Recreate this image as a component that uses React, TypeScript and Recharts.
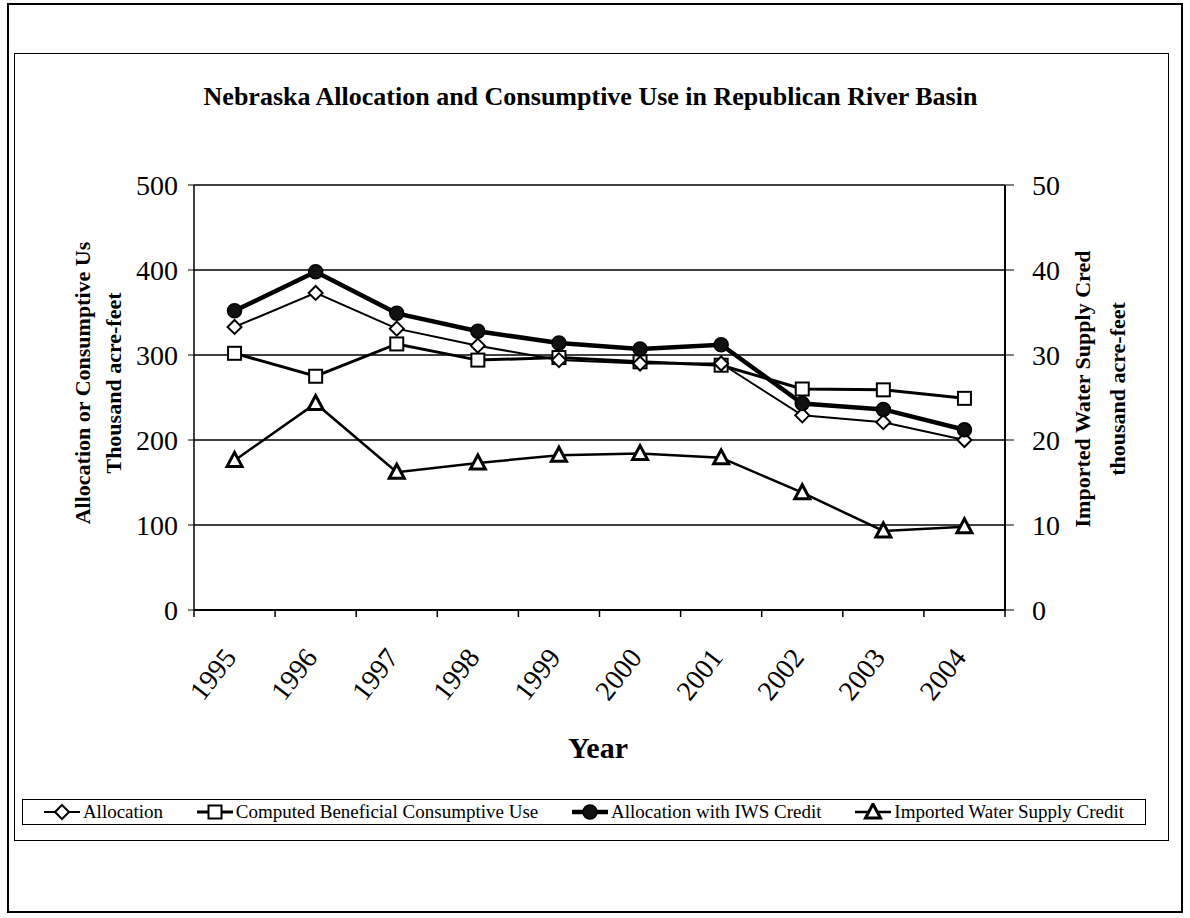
import React from 'react';
import { LineChart, Line, XAxis, YAxis, CartesianGrid } from 'recharts';

const years = ['1995', '1996', '1997', '1998', '1999', '2000', '2001', '2002', '2003', '2004'];
const allocation = [333, 373, 331, 311, 294, 290, 290, 229, 221, 200];
const computedUse = [302, 275, 313, 294, 297, 292, 288, 260, 259, 249];
const allocationIws = [352, 398, 349, 328, 314, 307, 312, 243, 236, 212];
const iwsCredit = [17.6, 24.3, 16.2, 17.3, 18.2, 18.4, 17.9, 13.8, 9.3, 9.8];

const leftTicks = [0, 100, 200, 300, 400, 500];
const rightTicks = [0, 10, 20, 30, 40, 50];

const data = years.map((year, i) => ({
  year,
  allocation: allocation[i],
  computedUse: computedUse[i],
  allocationIws: allocationIws[i],
  iwsCredit: iwsCredit[i],
}));

const FONT = "'Liberation Serif', 'Times New Roman', serif";
const PLOT_LEFT = 194;
const PLOT_RIGHT = 1005;
const HALF_BAND = (PLOT_RIGHT - PLOT_LEFT) / years.length / 2;

function Diamond({ cx, cy }: any) {
  if (cx == null || cy == null) return null;
  const r = 7;
  return <path d={`M${cx},${cy - r}L${cx + r},${cy}L${cx},${cy + r}L${cx - r},${cy}Z`} fill="#fff" stroke="#000" strokeWidth={2} />;
}

function Square({ cx, cy }: any) {
  if (cx == null || cy == null) return null;
  return <rect x={cx - 6.5} y={cy - 6.5} width={13} height={13} fill="#fff" stroke="#000" strokeWidth={2} />;
}

function Dot({ cx, cy }: any) {
  if (cx == null || cy == null) return null;
  return <circle cx={cx} cy={cy} r={7} fill="#111" stroke="#000" strokeWidth={1.5} />;
}

function Triangle({ cx, cy }: any) {
  if (cx == null || cy == null) return null;
  return <path d={`M${cx},${cy - 8}L${cx + 7.5},${cy + 6}L${cx - 7.5},${cy + 6}Z`} fill="#fff" stroke="#000" strokeWidth={3} />;
}

function YearTick({ x, y, payload, index }: any) {
  const axisY = y - 7;
  const ax = x + 3;
  const ay = axisY + 48;
  return (
    <g>
      <line x1={x - HALF_BAND} y1={axisY} x2={x - HALF_BAND} y2={axisY + 7} stroke="#000" strokeWidth={1.5} />
      {index === years.length - 1 && (
        <line x1={x + HALF_BAND} y1={axisY} x2={x + HALF_BAND} y2={axisY + 7} stroke="#000" strokeWidth={1.5} />
      )}
      <text x={ax} y={ay} textAnchor="end" transform={`rotate(-52, ${ax}, ${ay})`} fontFamily={FONT} fontSize={28} fill="#000">
        {payload.value}
      </text>
    </g>
  );
}

function LeftLabel() {
  return (
    <g fontFamily={FONT} fontWeight="bold" fontSize={22} fill="#000">
      <text transform="translate(82, 383) rotate(-90)" textAnchor="middle" dominantBaseline="central">
        Allocation or Consumptive Us
      </text>
      <text transform="translate(113, 383) rotate(-90)" textAnchor="middle" dominantBaseline="central">
        Thousand acre-feet
      </text>
    </g>
  );
}

function RightLabel() {
  return (
    <g fontFamily={FONT} fontWeight="bold" fontSize={22} fill="#000">
      <text transform="translate(1082, 389) rotate(-90)" textAnchor="middle" dominantBaseline="central">
        Imported Water Supply Cred
      </text>
      <text transform="translate(1117, 389) rotate(-90)" textAnchor="middle" dominantBaseline="central">
        thousand acre-feet
      </text>
    </g>
  );
}

function YearLabel() {
  return (
    <text x={598} y={758} textAnchor="middle" fontFamily={FONT} fontWeight="bold" fontSize={30} fill="#000">
      Year
    </text>
  );
}

const legendItems = [
  { name: 'Allocation', Marker: Diamond, width: 2 },
  { name: 'Computed Beneficial Consumptive Use', Marker: Square, width: 3 },
  { name: 'Allocation with IWS Credit', Marker: Dot, width: 4.5 },
  { name: 'Imported Water Supply Credit', Marker: Triangle, width: 2.5 },
];

function LegendBox() {
  return (
    <div
      style={{
        position: 'absolute',
        left: 22,
        top: 799,
        width: 1124,
        height: 26,
        border: '1.5px solid #000',
        display: 'flex',
        alignItems: 'center',
        justifyContent: 'space-around',
        fontFamily: FONT,
        fontSize: 19,
        color: '#000',
        boxSizing: 'border-box',
        padding: '0 4px',
      }}
    >
      {legendItems.map(({ name, Marker, width }) => (
        <div key={name} style={{ display: 'flex', alignItems: 'center', whiteSpace: 'nowrap' }}>
          <svg width={36} height={18} style={{ marginRight: 3 }}>
            <line x1={0} y1={9} x2={36} y2={9} stroke="#000" strokeWidth={width} />
            <Marker cx={18} cy={9} />
          </svg>
          <span>{name}</span>
        </div>
      ))}
    </div>
  );
}

export default function App() {
  return (
    <div style={{ position: 'absolute', left: 0, top: 0, width: 1190, height: 918, background: '#fff' }}>
      <div style={{ position: 'absolute', left: 7, top: 3, width: 1176, height: 910, border: '2px solid #000', boxSizing: 'border-box' }} />
      <div style={{ position: 'absolute', left: 14, top: 53, width: 1155, height: 788, border: '1.5px solid #000', boxSizing: 'border-box' }} />
      <div
        style={{
          position: 'absolute',
          left: 0,
          top: 82,
          width: 1181,
          textAlign: 'center',
          fontFamily: FONT,
          fontWeight: 'bold',
          fontSize: 26,
          lineHeight: '30px',
          color: '#000',
        }}
      >
        Nebraska Allocation and Consumptive Use in Republican River Basin
      </div>
      <div style={{ position: 'absolute', left: 0, top: 0 }}>
        <LineChart width={1190} height={918} data={data} margin={{ top: 185, right: 125, bottom: 208, left: 134 }}>
          <CartesianGrid horizontal vertical={false} stroke="#000" strokeWidth={1.4} yAxisId="left" />
          <XAxis
            dataKey="year"
            height={100}
            padding={{ left: HALF_BAND, right: HALF_BAND }}
            tickLine={false}
            tickSize={7}
            tickMargin={0}
            tick={<YearTick />}
            interval={0}
            axisLine={{ stroke: '#000', strokeWidth: 1.8 }}
            label={<YearLabel />}
          />
          <YAxis
            yAxisId="left"
            width={60}
            domain={[0, 500]}
            ticks={leftTicks}
            tickSize={6}
            tickMargin={10}
            tick={{ fontFamily: FONT, fontSize: 28, fill: '#000' }}
            tickLine={{ stroke: '#000' }}
            axisLine={{ stroke: '#000', strokeWidth: 1.5 }}
            label={<LeftLabel />}
          />
          <YAxis
            yAxisId="right"
            orientation="right"
            width={60}
            domain={[0, 50]}
            ticks={rightTicks}
            tickSize={9}
            tickMargin={18}
            tick={{ fontFamily: FONT, fontSize: 28, fill: '#000', textAnchor: 'start' }}
            tickLine={{ stroke: '#000' }}
            axisLine={{ stroke: '#000', strokeWidth: 2 }}
            label={<RightLabel />}
          />
          <Line yAxisId="right" dataKey="iwsCredit" stroke="#000" strokeWidth={2.5} dot={<Triangle />} isAnimationActive={false} />
          <Line yAxisId="left" dataKey="computedUse" stroke="#000" strokeWidth={3} dot={<Square />} isAnimationActive={false} />
          <Line yAxisId="left" dataKey="allocation" stroke="#000" strokeWidth={2} dot={<Diamond />} isAnimationActive={false} />
          <Line yAxisId="left" dataKey="allocationIws" stroke="#000" strokeWidth={4.5} dot={<Dot />} isAnimationActive={false} />
        </LineChart>
      </div>
      <LegendBox />
    </div>
  );
}
